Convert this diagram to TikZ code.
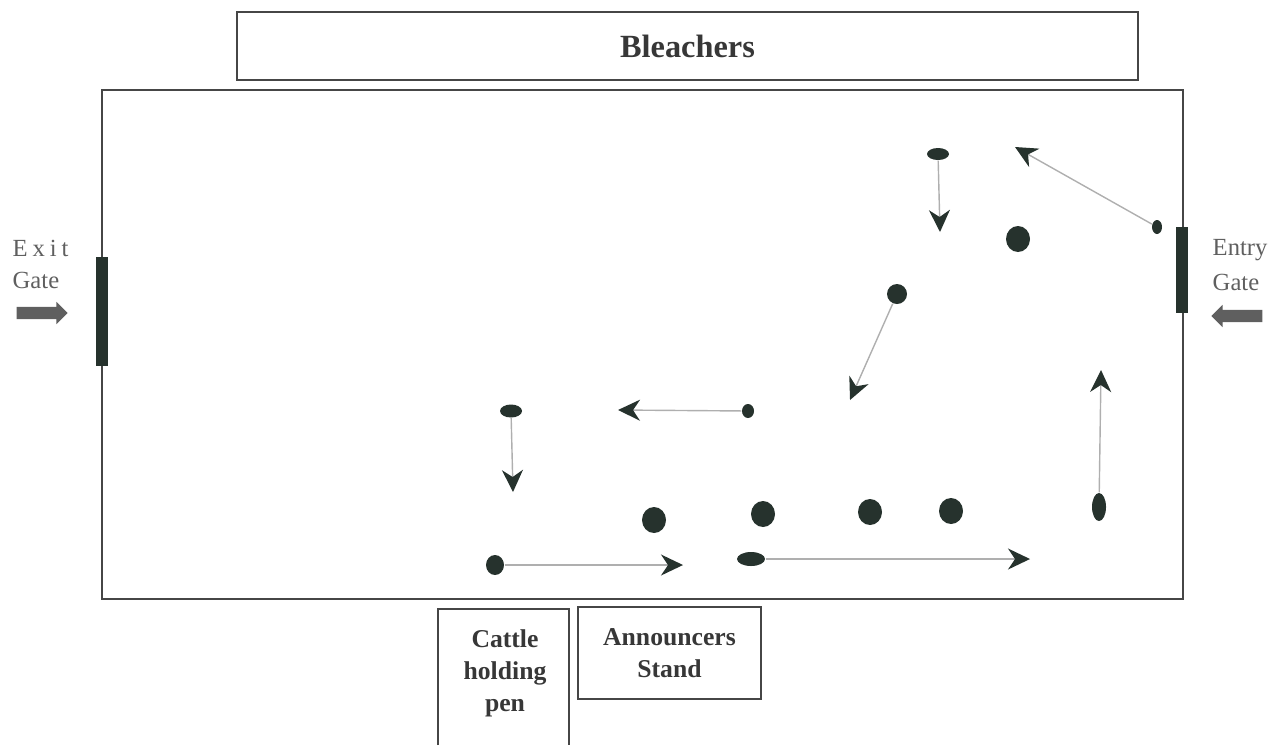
\documentclass[tikz,border=0pt]{standalone}
\usepackage{fontspec}
\setmainfont{Liberation Serif}
\newfontfamily\spacedfont[LetterSpace=20]{Liberation Serif}
\usepackage{tikz}
\usetikzlibrary{arrows.meta,shapes.geometric,shapes.arrows}
\definecolor{ink}{RGB}{38,50,45}
\definecolor{trailgray}{RGB}{175,175,175}
\definecolor{framegray}{RGB}{70,70,70}
\definecolor{textgray}{RGB}{55,55,55}
\definecolor{gategray}{RGB}{95,95,95}

\begin{document}
\begin{tikzpicture}[x=0.01cm, y=-0.01cm,
  cow/.style={ellipse, fill=ink, inner sep=0pt},
  bigcow/.style={cow, minimum width=0.24cm, minimum height=0.26cm},
  trail/.style={draw=trailgray, line width=0.4pt, -{Stealth[length=0.22cm, width=0.21cm, inset=0.07cm, ink]}},
  box/.style={draw=framegray, line width=0.6pt},
  lbl/.style={font=\fontsize{7.3}{9.1}\selectfont\bfseries, text=textgray, align=center},
  gatelbl/.style={font=\fontsize{7}{9}\selectfont, text=gategray, inner sep=0pt, anchor=west},
  gatearrow/.style={single arrow, fill=gategray, inner sep=0.055cm, minimum height=0.51cm, single arrow head extend=0.05cm, single arrow head indent=0pt}]
\useasboundingbox (0,0) rectangle (1283,745);

% arena
\draw[box] (102,90) rectangle (1183,599);
\node[box, lbl, font=\fontsize{9.2}{11}\selectfont\bfseries, minimum width=9.01cm, minimum height=0.68cm] (bleachers) at (687.5,46) {Bleachers};

% gates
\fill[ink] (96,257) rectangle (108,366);
\fill[ink] (1176,227) rectangle (1188,313);
\node[gatelbl] (exitlbl) at (12,248) {\spacedfont Exit};
\node[gatelbl] (exitgate) at (12,280) {Gate};
\node[gatearrow] (exitarrow) at (39,313) {};
\node[gatelbl] (entrylbl) at (1212,250) {Entry};
\node[gatelbl] (entrygate) at (1212,282) {Gate};
\node[gatearrow, shape border rotate=180] (entryarrow) at (1240,316) {};

% pattern
\node[cow, minimum width=0.22cm, minimum height=0.12cm] (m1) at (938,154) {};
\node[cow, minimum width=0.10cm, minimum height=0.14cm] (m2) at (1157,227) {};
\node[cow, minimum width=0.20cm, minimum height=0.20cm] (m3) at (897,294) {};
\node[cow, minimum width=0.12cm, minimum height=0.14cm] (m4) at (748,411) {};
\node[cow, minimum width=0.22cm, minimum height=0.13cm] (m5) at (511,411) {};
\node[cow, minimum width=0.18cm, minimum height=0.20cm] (m6) at (495,565) {};
\node[cow, minimum width=0.28cm, minimum height=0.14cm] (m7) at (751,559) {};
\node[cow, minimum width=0.14cm, minimum height=0.28cm] (m8) at (1099,507) {};

\coordinate (t1) at (940,232);
\coordinate (t2) at (1015,147);
\coordinate (t3) at (850,400);
\coordinate (t4) at (618,410);
\coordinate (t5) at (513,492);
\coordinate (t6) at (683,565);
\coordinate (t7) at (1030,559);
\coordinate (t8) at (1101,370);

\foreach \i in {1,...,8}
  \draw[trail] (m\i) -- (t\i);

\node[bigcow] (d1) at (1018,239) {};
\node[bigcow] (d2) at (654,520) {};
\node[bigcow] (d3) at (763,514) {};
\node[bigcow] (d4) at (870,512) {};
\node[bigcow] (d5) at (951,511) {};

% stands below
\draw[box] (438,745)--(438,609)--(569,609)--(569,745);
\node[lbl] (pen) at (505,673) {Cattle\\holding\\pen};
\node[box, lbl, minimum width=1.83cm, minimum height=0.92cm] (stand) at (669.5,653) {Announcers\\Stand};

\end{tikzpicture}
\end{document}
